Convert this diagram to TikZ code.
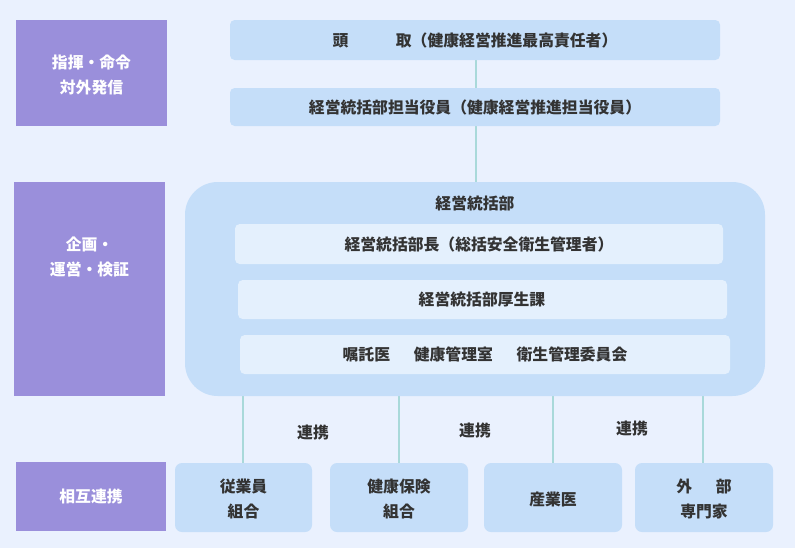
\documentclass[tikz,border=0pt]{standalone}
\usepackage{fontspec}
\setmainfont{Noto Sans CJK JP}
\definecolor{bgcol}{HTML}{EAF1FE}
\definecolor{purp}{HTML}{9A8FDB}
\definecolor{boxcol}{HTML}{C5DEF9}
\definecolor{innercol}{HTML}{E4F0FD}
\definecolor{linkcol}{HTML}{A9D9DA}
\definecolor{txtcol}{HTML}{333333}
\begin{document}
\begin{tikzpicture}[x=0.03cm,y=-0.03cm,
  every node/.style={font=\fontsize{13.5}{22}\selectfont\bfseries,text=txtcol,align=center},
  side/.style={fill=purp,text=white},
  topbox/.style={fill=boxcol,rounded corners=4pt},
  inner/.style={fill=innercol,rounded corners=4pt},
  link/.style={draw=linkcol,line width=1.2pt}]
\fill[bgcol] (0,0) rectangle (795,548);
\useasboundingbox (0,0) rectangle (795,548);
% left column
\fill[side] (16,20) rectangle (167,126);
\node[text=white] (cmd) at (91.5,75) {指揮・命令\\対外発信};
\fill[side] (14,182) rectangle (165,396);
\node[text=white] (plan) at (89.5,257) {企画・\\運営・検証};
\fill[side] (16,462) rectangle (166,531);
\node[text=white] (coop) at (91,496) {相互連携};
% links behind boxes
\draw[link] (476,60) -- (476,88);
\draw[link] (476,126) -- (476,182);
\foreach \x in {243,399,553,703} \draw[link] (\x,396) -- (\x,463);
% top
\fill[topbox] (230,20) rectangle (720,60);
\node (head) at (475,40) {頭\hspace{3em}取（健康経営推進最高責任者）};
\fill[topbox] (230,88) rectangle (720,126);
\node (exec) at (475,107) {経営統括部担当役員（健康経営推進担当役員）};
% department
\fill[boxcol,rounded corners=28pt] (185,182) rectangle (765,396);
\node (dept) at (475,203) {経営統括部};
\fill[inner] (235,224) rectangle (723,264);
\node (chief) at (479,244) {経営統括部長（総括安全衛生管理者）};
\fill[inner] (238,280) rectangle (727,319);
\node (welf) at (482,299) {経営統括部厚生課};
\fill[inner] (240,335) rectangle (730,374);
\node (med) at (485,354) {嘱託医\hspace{1.5em}健康管理室\hspace{1.5em}衛生管理委員会};
% links labels
\foreach \x/\y in {313/432,475/430,632/428} \node at (\x,\y) {連携};
% bottom
\foreach \a/\b/\t [count=\i] in {175/312/従業員\\組合,330/468/健康保険\\組合,484/622/産業医,635/773/外\hspace{1.5em}部\\専門家}
  {\fill[topbox,rounded corners=6pt] (\a,463) rectangle (\b,532);
   \node (b\i) at ({(\a+\b)/2},499) {\t};}
\end{tikzpicture}
\end{document}
